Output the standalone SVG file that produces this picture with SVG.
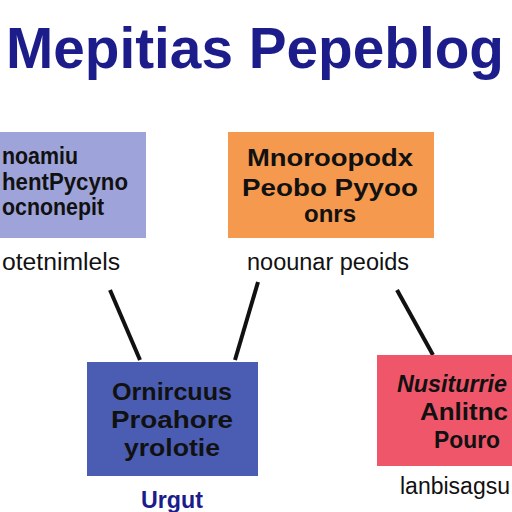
<svg xmlns="http://www.w3.org/2000/svg" width="512" height="512" viewBox="0 0 512 512">
<style>
.t{font-family:"Liberation Sans",Arial,sans-serif;font-weight:bold;fill:#111;font-size:24px}
.l{font-family:"Liberation Sans",Arial,sans-serif;fill:#111;font-size:23px}
.c{text-anchor:middle}
.conn{stroke:#111;stroke-width:4;fill:none}
</style>
<rect width="512" height="512" fill="#ffffff"/>
<text x="6" y="68" font-family="'Liberation Sans',Arial,sans-serif" font-weight="bold" font-size="57" fill="#1c1c8a" textLength="498" lengthAdjust="spacingAndGlyphs">Mepitias Pepeblog</text>
<g id="connectors">
<line class="conn" x1="110" y1="290" x2="140" y2="360"/>
<line class="conn" x1="258" y1="282" x2="235" y2="360"/>
<line class="conn" x1="397" y1="290" x2="433" y2="355"/>
</g>
<g id="node1">
<rect x="0" y="132" width="146" height="106" fill="#9ea4d9"/>
<text class="t" x="2" y="164" textLength="76" lengthAdjust="spacingAndGlyphs">noamiu</text>
<text class="t" x="2" y="190" textLength="126" lengthAdjust="spacingAndGlyphs">hentPycyno</text>
<text class="t" x="2" y="215" textLength="102" lengthAdjust="spacingAndGlyphs">ocnonepit</text>
<text class="l" x="2" y="270" textLength="118" lengthAdjust="spacingAndGlyphs">otetnimlels</text>
</g>
<g id="node2">
<rect x="228" y="132" width="206" height="106" fill="#f5994f"/>
<text class="t c" x="330" y="166" textLength="166" lengthAdjust="spacingAndGlyphs">Mnoroopodx</text>
<text class="t c" x="330" y="196" font-size="28" textLength="176" lengthAdjust="spacingAndGlyphs">Peobo Pyyoo</text>
<text class="t c" x="330" y="222" textLength="52" lengthAdjust="spacingAndGlyphs">onrs</text>
<text class="l c" x="328" y="270" textLength="162" lengthAdjust="spacingAndGlyphs">noounar peoids</text>
</g>
<g id="node3">
<rect x="87" y="362" width="171" height="114" fill="#4a5db2"/>
<text class="t c" x="172" y="400" textLength="120" lengthAdjust="spacingAndGlyphs">Ornircuus</text>
<text class="t c" x="172" y="428" textLength="122" lengthAdjust="spacingAndGlyphs">Proahore</text>
<text class="t c" x="172" y="456" textLength="96" lengthAdjust="spacingAndGlyphs">yrolotie</text>
<text class="t c" x="172" y="508" style="fill:#1c1c8a" textLength="62" lengthAdjust="spacingAndGlyphs">Urgut</text>
</g>
<g id="node4">
<rect x="377" y="355" width="135" height="111" fill="#f0566a"/>
<text class="t" x="397" y="392" font-size="23" font-style="italic" textLength="110" lengthAdjust="spacingAndGlyphs">Nusiturrie</text>
<text class="t" x="420" y="420" textLength="88" lengthAdjust="spacingAndGlyphs">Anlitnc</text>
<text class="t" x="434" y="448" textLength="66" lengthAdjust="spacingAndGlyphs">Pouro</text>
<text class="l" x="400" y="494" font-size="19">lanbisagsu</text>
</g>
</svg>
